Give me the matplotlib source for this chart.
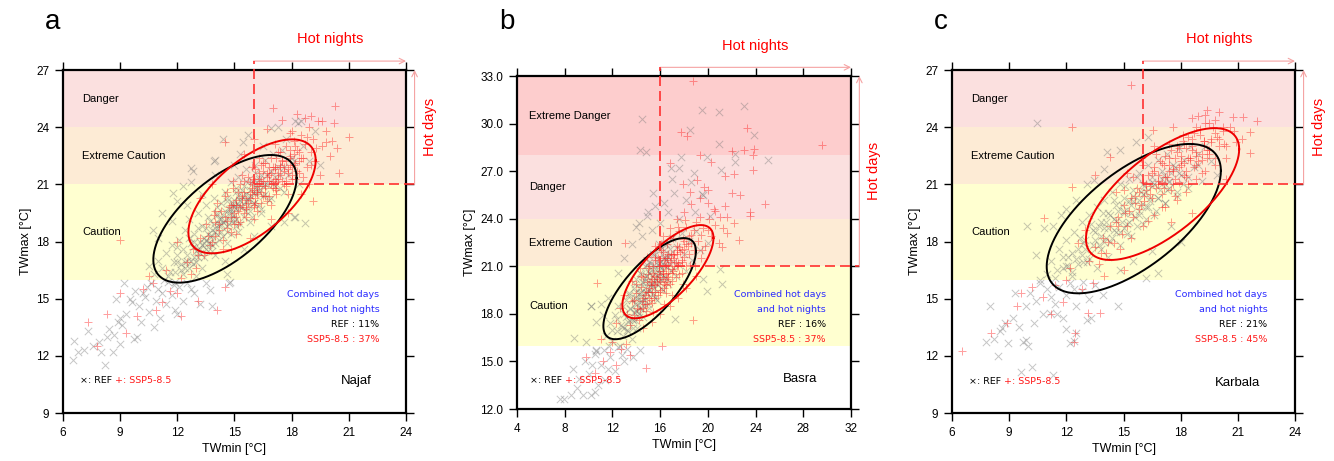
import numpy as np
import matplotlib.pyplot as plt

plt.rcParams['font.family'] = ['Liberation Sans', 'DejaVu Sans']

# ---- data: (TWmin, TWmax) pairs ----
najaf_ref = [
    (6.5,11.8),(6.6,12.8),(6.8,12.2),(7.1,12.3),(7.3,13.3),(7.6,12.5),(7.9,12.7),(8.0,12.2),(8.2,11.5),(8.3,13.0),
    (8.4,13.4),(8.6,12.2),(8.7,13.1),(8.9,13.8),(9.0,14.0),(9.1,13.6),(9.0,12.6),(9.3,14.2),(9.5,15.0),(9.6,14.8),
    (9.7,12.9),(9.9,13.0),(10.0,14.6),(10.2,15.3),(10.3,15.1),(10.5,14.3),(10.6,15.8),(10.8,13.5),(10.9,14.9),(11.0,15.5),
    (11.2,15.3),(11.4,14.7),(11.5,15.9),(11.7,15.2),(11.9,14.4),(12.1,15.6),(12.3,14.9),(12.5,15.8),(12.9,15.3),(13.2,14.7),
    (13.5,15.8),(13.8,14.6),(9.2,15.8),(8.8,15.0),(10.1,13.8),(11.1,14.0),(12.0,14.2),(14.7,15.8),(10.4,15.6),(9.8,15.4),
    (11.8,15.7),(12.7,15.5),(14.75,15.9),(13.7,15.46),(14.6,16.3),
    (10.8,16.3),(11.0,17.0),(11.2,16.6),(11.4,17.4),(11.5,16.2),(11.7,17.8),(11.8,16.9),(12.0,17.3),(12.1,18.1),(12.2,16.5),
    (12.3,17.6),(12.4,18.6),(12.5,17.0),(12.6,19.2),(12.7,17.9),(12.8,16.8),(12.9,18.4),(13.0,17.5),(13.1,19.5),(13.2,18.0),
    (13.3,18.8),(13.4,17.2),(13.5,19.9),(13.6,18.4),(13.7,19.1),(13.8,17.8),(13.9,20.3),(14.0,18.7),(14.1,19.4),(14.2,18.1),
    (14.3,20.0),(14.4,19.0),(14.5,20.6),(14.6,18.5),(14.7,19.7),(14.8,21.1),(14.9,19.2),(15.0,20.2),(15.1,18.8),(15.2,21.4),
    (15.3,19.8),(15.4,20.7),(15.5,19.3),(15.6,21.8),(15.7,20.3),(15.8,19.6),(15.9,21.2),(16.0,20.0),(16.1,22.0),(16.2,20.8),
    (16.3,19.9),(16.4,21.5),(16.5,20.4),(16.6,22.3),(16.7,21.0),(16.8,20.2),(16.9,21.7),(17.0,22.6),(17.1,20.9),(17.3,21.9),
    (17.5,22.8),(17.6,20.6),(17.8,21.5),(18.0,22.4),(18.2,19.3),(18.4,21.0),(18.6,23.0),(18.9,22.2),(19.2,23.8),(18.2,24.3),
    (12.3,20.9),(12.8,21.7),(11.7,19.1),(12.0,20.1),(13.9,22.2),(14.4,23.4),(15.3,22.6),(17.3,24.0),(19.5,22.0),(17.6,19.0),
    (16.9,18.8),(13.0,16.2),(15.5,17.6),(14.5,17.0),(16.0,18.3),(11.0,18.2),(10.5,16.7),(14.0,21.5),(13.3,20.5),(12.5,19.9),
    (15.0,22.0),(16.5,23.0),(17.7,23.4),(12.74,21.84),(12.74,21.1),(11.78,20.53),(10.73,18.6),(11.22,19.5),(13.97,22.28),
    (15.46,23.24),(15.72,23.6),(16.94,23.94),(18.35,24.24),(18.5,24.3),(18.1,19.3),(18.7,18.96),
    (11.3,16.0),(11.9,16.4),(12.4,16.9),(12.9,17.2),(13.3,17.8),(13.8,18.3),(14.2,18.8),(14.7,19.2),(15.1,19.7),(15.6,20.1),
    (16.1,20.5),(16.6,21.0),(17.1,21.4),(17.6,21.9),(18.1,22.2),(12.0,17.7),(12.6,18.2),(13.1,18.7),(13.6,19.3),(14.1,19.8),
    (14.6,20.3),(15.1,20.8),(15.6,21.2),(16.1,21.6),(14.8,18.4),(15.3,18.9),(15.9,19.3),(16.4,19.7),(16.9,20.3),(17.4,20.8),
    (15.0,19.0),(14.4,18.3),(13.5,17.6),(15.7,19.9),(16.3,20.6),
    (12.2,16.8),(12.5,17.3),(12.8,17.7),(13.0,16.9),(13.2,17.6),(13.4,18.2),(13.6,17.5),(13.8,18.6),(14.0,17.9),(14.2,19.2),
    (14.3,18.5),(14.5,19.6),(14.7,18.9),(14.9,20.0),(15.0,19.4),(15.2,20.4),(15.4,19.8),(15.5,20.9),(15.7,20.2),(15.9,21.0),
    (16.1,20.6),(16.3,21.3),(16.5,20.9),(16.7,21.5),(12.6,16.6),(13.1,17.2),(13.7,17.9),(14.3,18.9),(14.8,19.7),(15.3,20.1),
    (15.8,20.7),(16.2,21.1),(11.6,16.4),(12.0,16.9),(12.9,18.0),(13.5,18.7),(14.1,19.5),(14.6,20.1),(15.1,20.6),(16.6,20.5),
    (17.0,21.0),(17.4,21.5),(11.9,15.9),(12.3,16.3),(13.3,16.6),(14.0,17.3),(14.6,17.9),(15.2,18.5),(15.8,19.0),(16.4,19.5),
    (13.4,17.9),(13.7,18.3),(14.0,18.5),(14.2,18.9),(14.5,19.1),(14.8,19.5),(15.0,19.8),(15.3,20.2),(15.6,20.5),(13.9,18.9),
    (14.4,19.4),(14.9,19.9),(15.4,20.4),(13.2,17.4),(13.6,17.9),(14.1,18.4),(14.6,18.8),(15.1,19.2),(15.6,19.6),(16.0,20.0),
    (12.7,17.0),(13.1,17.6),(13.5,18.1),(14.3,19.2),(14.7,19.5),(15.2,19.9),(15.8,20.4),(16.2,20.9),(12.4,16.6),(13.8,17.5),
]
najaf_ssp = [
    (7.3,13.8),(7.8,12.5),(8.3,14.2),(9.0,18.1),(9.3,13.2),(9.0,15.3),(9.9,14.1),(10.2,15.5),(10.7,15.8),(10.9,14.4),
    (11.2,14.8),(11.6,15.4),(12.0,15.3),(12.2,14.1),(13.1,14.9),(14.1,14.4),(14.5,15.6),(10.5,16.2),(11.4,16.5),(12.2,16.1),
    (12.5,16.9),(12.8,17.6),(13.0,16.6),(13.2,18.2),(13.4,17.3),(13.5,18.9),(13.7,17.8),(13.9,19.4),(14.0,18.3),(14.1,20.0),
    (14.2,18.9),(14.3,19.6),(14.4,17.6),(14.5,20.4),(14.6,19.1),(14.7,19.8),(14.8,18.5),(14.9,20.8),(15.0,19.5),(15.1,20.2),
    (15.2,18.9),(15.3,21.0),(15.4,19.9),(15.5,20.6),(15.6,19.3),(15.7,21.4),(15.8,20.3),(15.9,21.0),(16.0,19.8),(16.1,21.8),
    (16.2,20.6),(16.3,21.3),(16.4,20.0),(16.5,22.1),(16.6,20.9),(16.7,21.6),(16.8,20.4),(16.9,22.4),(17.0,21.2),(17.1,21.9),
    (17.2,20.7),(17.3,22.7),(17.4,21.5),(17.5,22.2),(17.6,21.0),(17.7,23.0),(17.8,21.8),(17.9,22.5),(18.0,21.3),(18.1,23.3),
    (18.2,22.1),(18.3,22.8),(18.4,21.6),(18.5,23.6),(18.6,22.4),(18.7,23.1),(18.8,21.9),(18.9,24.0),(19.0,22.7),(19.1,23.4),
    (19.2,22.2),(19.4,24.3),(19.6,23.0),(19.8,23.8),(20.0,22.5),(20.2,24.2),(20.4,22.9),(17.0,25.0),(17.5,24.4),(18.3,24.7),
    (18.7,24.5),(20.3,25.1),(21.0,23.5),(20.5,21.6),(19.1,20.1),(14.5,23.2),(15.5,22.6),(16.0,23.4),(16.7,23.9),(13.2,20.3),
    (13.8,21.0),(12.0,18.0),(17.8,19.5),(18.5,20.5),(16.9,19.2),(15.8,18.2),
    (14.6,18.7),(15.1,19.3),(15.6,19.8),(16.1,20.3),(16.6,20.8),(17.1,21.3),(17.6,21.7),(18.1,22.0),(15.4,20.3),(15.9,20.8),
    (16.4,21.2),(16.9,21.6),(17.4,22.0),(17.9,22.4),(18.4,22.7),(16.2,19.6),(16.7,20.1),(17.2,20.5),(17.7,20.9),(18.2,21.3),
    (14.9,19.9),(15.4,21.5),(16.3,22.4),(17.1,23.1),(18.0,23.8),(19.0,24.6),(19.6,24.3),(20.1,23.3),(19.5,21.5),(18.9,21.0),
    (13.6,18.3),(14.0,19.0),(13.1,17.3),(12.7,16.3),(14.8,17.6),
    (14.2,18.6),(14.5,19.3),(14.8,19.9),(15.0,18.9),(15.2,19.6),(15.4,20.4),(15.6,19.7),(15.8,20.6),(16.0,21.3),(16.1,20.0),
    (16.3,20.9),(16.5,21.7),(16.6,20.4),(16.8,21.2),(17.0,21.9),(17.1,20.8),(17.3,21.6),(17.5,22.3),(17.7,21.2),(17.9,22.0),
    (18.1,22.6),(18.3,21.7),(15.3,19.0),(15.7,20.0),(16.2,20.5),(16.7,21.4),(17.2,21.1),(17.6,21.9),(18.0,21.5),(18.5,22.4),
    (14.0,19.6),(14.6,20.6),(15.5,21.2),(16.4,22.0),(17.4,22.7),(18.2,23.0),(13.8,18.0),(14.4,18.1),(15.1,18.4),(16.0,19.2),
    (16.9,19.9),(17.8,20.5),(18.6,21.4),(19.0,22.0),(19.3,22.9),(18.8,23.5),(19.8,23.2),(17.9,23.7),(15.9,21.9),(14.9,21.2),
    (15.3,19.8),(15.6,20.2),(15.9,20.5),(16.2,20.9),(16.5,21.2),(16.8,21.5),(17.1,21.8),(17.4,21.9),(17.7,22.2),(16.0,20.7),
    (16.4,20.6),(16.9,21.0),(17.3,21.3),(17.8,21.6),(15.8,21.1),(16.3,21.6),(16.8,21.9),(17.2,22.4),(15.1,19.9),(15.5,19.5),
    (16.0,19.9),(16.5,20.4),(17.0,20.8),(17.5,21.2),(18.0,21.9),(14.8,19.3),(15.2,20.6),(16.6,22.1),(17.9,22.8),(18.4,22.2),
]
basra_ref = [
    (7.6,12.6),(7.9,12.6),(8.5,12.9),(9.0,13.3),(9.5,12.9),(10.2,12.9),(10.5,13.1),(8.7,14.5),(9.7,15.0),(10.0,14.2),
    (10.5,15.5),(11.0,14.8),(11.3,15.7),(11.8,15.3),(12.2,14.4),(12.5,15.9),(13.0,15.0),(13.7,15.3),(14.3,15.7),(11.4,13.8),
    (10.8,13.5),(9.2,13.9),(10.3,14.8),(11.6,14.5),(12.8,15.4),(8.75,16.5),(10.6,15.7),(9.8,16.2),
    (11.5,16.6),(11.8,17.4),(12.0,16.3),(12.2,17.9),(12.4,16.9),(12.5,18.5),(12.7,17.3),(12.9,16.6),(13.0,18.0),(13.1,18.9),
    (13.3,17.5),(13.4,19.3),(13.5,18.3),(13.7,17.1),(13.8,19.6),(13.9,18.6),(14.0,20.2),(14.1,19.0),(14.2,17.8),(14.3,20.6),
    (14.4,19.4),(14.5,18.3),(14.6,20.0),(14.7,21.0),(14.8,19.0),(14.9,20.4),(15.0,18.6),(15.1,21.3),(15.2,19.7),(15.3,20.8),
    (15.4,19.2),(15.5,21.7),(15.6,20.2),(15.7,18.9),(15.8,21.1),(15.9,20.0),(16.0,22.0),(16.1,20.6),(16.2,19.5),(16.3,21.5),
    (16.4,20.3),(16.5,22.4),(16.6,21.0),(16.7,19.9),(16.8,21.8),(16.9,20.7),(17.0,22.8),(17.1,21.3),(17.3,20.4),(17.4,22.2),
    (17.6,21.1),(17.8,23.1),(18.0,21.8),(18.2,20.7),(18.4,22.6),(18.7,21.4),(19.0,23.2),(19.3,22.0),(19.6,20.2),(20.0,22.5),
    (13.6,22.4),(14.0,23.5),(14.5,22.9),(14.9,24.2),(15.3,23.3),(15.6,24.8),(16.0,23.7),(16.3,25.0),(16.7,24.4),(17.2,25.6),
    (17.6,24.0),(18.2,25.2),(18.9,24.4),(19.6,25.5),(20.2,24.2),(13.0,21.5),(12.5,20.6),(11.6,19.0),(11.0,18.6),(10.2,18.5),
    (10.6,17.5),(11.2,17.9),(14.2,23.7),(15.0,24.4),
    (14.47,30.27),(14.28,28.36),(14.81,28.2),(19.5,30.88),(20.96,30.71),(23.05,31.09),(23.86,29.27),(20.93,28.74),(18.5,29.62),
    (22.27,28.05),(25.0,27.7),(17.74,27.9),(19.9,27.9),(21.12,27.1),(16.93,27.17),(17.57,27.17),(18.58,26.33),(15.37,25.64),
    (16.96,26.48),(19.53,25.55),(20.98,20.81),(19.95,19.47),(21.18,19.87),(17.27,17.66),(10.23,18.5),(10.62,15.67),(22.3,27.6),
    (18.8,26.9),
    (13.2,17.0),(13.6,17.7),(14.0,18.2),(14.4,18.8),(14.8,19.4),(15.2,19.9),(15.6,20.5),(16.0,21.0),(16.4,21.6),(16.8,22.1),
    (13.9,17.6),(14.3,18.4),(14.7,18.9),(15.1,19.5),(15.5,20.0),(15.9,20.6),(16.3,21.1),(16.7,21.6),
    (12.8,17.2),(13.1,17.8),(13.3,16.9),(13.5,18.4),(13.7,17.6),(13.9,19.0),(14.1,18.2),(14.3,19.6),(14.5,18.8),(14.7,20.1),
    (14.9,19.3),(15.1,20.6),(15.3,19.9),(15.5,21.1),(15.7,20.4),(15.9,21.5),(16.1,20.9),(16.3,22.0),(16.5,21.4),(16.7,22.5),
    (12.4,17.7),(12.9,18.5),(13.4,19.2),(13.9,19.9),(14.4,20.5),(14.9,21.1),(15.4,21.8),(15.9,22.4),(13.6,16.4),(14.1,17.1),
    (14.6,17.8),(15.1,18.4),(15.6,19.0),(16.1,19.6),(16.6,20.2),(17.1,20.9),(12.0,17.0),(11.7,16.0),(12.6,16.0),(13.2,15.8),
    (13.8,18.1),(14.1,18.6),(14.4,19.1),(14.7,19.6),(15.0,20.0),(15.3,20.4),(15.6,20.8),(15.9,21.2),(14.0,19.4),(14.5,20.0),
    (15.0,20.7),(15.4,19.3),(15.8,19.8),(16.2,20.3),(14.2,18.0),(14.6,18.5),(13.6,18.9),(14.8,20.4),(15.2,21.2),(16.0,20.2),
    (13.4,17.6),(13.0,17.1),(16.4,21.0),(15.5,19.6),(14.3,19.3),
]
basra_ssp = [
    (10.5,14.3),(11.2,15.0),(11.8,15.6),(12.3,14.8),(12.0,16.2),(12.7,15.8),(13.5,15.4),(14.84,14.6),(16.15,15.95),(9.8,15.3),
    (11.0,16.4),(13.1,16.1),
    (13.2,18.0),(13.5,17.3),(13.6,18.8),(13.8,17.9),(14.0,19.3),(14.1,18.4),(14.2,17.6),(14.4,19.7),(14.5,18.8),(14.6,20.3),
    (14.7,19.2),(14.8,18.2),(14.9,20.0),(15.0,19.4),(15.1,21.0),(15.2,19.8),(15.3,18.7),(15.4,20.6),(15.5,19.9),(15.6,21.4),
    (15.7,20.3),(15.8,19.2),(15.9,21.0),(16.0,20.1),(16.1,22.0),(16.2,20.7),(16.3,19.6),(16.4,21.5),(16.5,20.5),(16.6,22.4),
    (16.7,21.1),(16.8,19.9),(16.9,21.8),(17.0,20.8),(17.1,22.8),(17.2,21.5),(17.3,20.3),(17.4,22.3),(17.5,21.2),(17.6,23.2),
    (17.7,21.9),(17.8,20.6),(17.9,22.7),(18.0,21.6),(18.2,23.5),(18.3,22.3),(18.5,21.1),(18.6,23.0),(18.8,22.0),(19.0,23.8),
    (19.2,22.6),(19.4,21.5),(19.6,23.4),(19.8,22.3),(20.1,24.0),(20.3,22.9),(20.6,23.6),(20.9,22.5),(21.3,23.4),(21.6,24.1),
    (18.0,24.4),(18.6,24.9),(19.3,25.3),(20.0,25.0),(20.6,24.5),(21.4,24.8),(17.4,24.0),(16.8,23.4),(16.2,22.9),(15.6,22.3),
    (14.9,21.6),(14.3,20.9),(13.6,20.1),(13.0,19.2),(12.6,18.4),(12.3,17.4),(19.0,20.4),(18.2,19.6),(17.5,19.0),(16.8,18.5),
    (16.0,18.0),(15.3,17.5),(14.6,17.1),
    (18.75,32.69),(17.74,29.45),(18.25,29.2),(23.3,29.7),(29.53,28.68),(22.0,28.3),(23.05,28.36),(23.9,28.4),(23.8,28.0),
    (23.8,27.1),(19.36,28.0),(20.26,27.6),(21.4,26.7),(22.2,26.8),(16.8,27.5),(19.08,26.43),(20.0,25.8),(22.05,25.6),
    (22.7,25.5),(24.8,24.9),(23.55,24.4),(23.55,24.2),(20.5,24.6),(21.04,24.1),(22.2,23.7),(21.6,23.1),(22.65,22.66),
    (21.2,22.2),(18.72,17.6),(13.08,22.45),(10.7,19.93),(19.7,26.0),(18.5,25.7),(17.9,26.2),
    (15.0,20.5),(15.4,21.0),(15.8,21.5),(16.2,21.9),(16.6,20.2),(17.0,20.6),(17.4,21.0),(17.8,21.4),(16.0,19.5),(16.4,20.0),
    (15.2,18.9),(15.6,19.4),(17.2,21.8),(17.6,22.2),(18.0,22.6),(18.4,22.9),(18.8,23.3),(19.3,24.1),(16.5,19.3),(14.7,18.6),
    (14.3,18.3),(14.6,19.0),(14.9,18.6),(15.1,19.6),(15.3,20.2),(15.5,19.0),(15.7,20.0),(15.9,20.7),(16.0,19.4),(16.2,20.3),
    (16.4,21.0),(16.5,19.8),(16.7,20.6),(16.9,21.4),(17.0,20.1),(17.2,21.0),(17.4,21.8),(17.6,20.5),(17.8,21.3),(18.0,22.1),
    (18.2,21.0),(18.4,21.8),(18.6,22.5),(15.0,20.9),(15.6,21.6),(16.1,22.4),(16.8,22.9),(17.5,23.5),(14.0,19.9),(13.8,18.9),
    (14.4,20.4),(16.3,18.6),(17.0,19.2),(17.9,19.9),(18.9,21.0),(19.5,22.0),(20.0,23.3),(19.4,23.0),(18.1,23.9),(15.4,18.1),
    (15.3,19.4),(15.6,19.8),(15.9,20.2),(16.2,20.6),(16.5,21.0),(16.8,21.3),(17.1,21.7),(17.4,22.0),(15.5,20.4),(15.9,21.0),
    (16.3,21.4),(16.7,21.8),(16.3,19.9),(16.7,20.3),(17.1,20.7),(17.5,21.0),(15.1,19.0),(14.8,19.4),(15.2,20.1),(16.0,20.5),
    (16.6,21.5),(17.3,21.3),(17.8,22.0),(18.2,22.4),(14.6,18.4),
]
karbala_ref = [
    (7.98,14.64),(7.8,12.75),(8.42,11.97),(9.64,11.13),(10.22,11.44),(11.3,11.0),(8.6,13.45),(8.94,12.66),(9.9,12.84),
    (11.13,14.24),(12.18,12.66),(12.53,13.19),(13.06,13.89),(14.72,14.59),
    (8.5,13.3),(8.8,13.7),(9.2,14.0),(9.5,13.5),(9.9,14.6),(10.1,15.3),(10.4,14.9),(10.6,15.8),(10.8,14.2),(11.0,15.5),
    (11.2,15.1),(11.4,14.7),(11.6,15.6),(11.8,14.0),(12.0,15.2),(12.2,15.8),(12.5,14.6),(12.8,15.4),(13.2,15.0),(13.5,15.7),
    (13.9,15.2),(9.7,12.7),(10.0,12.5),(10.3,13.7),(9.3,15.3),(8.2,12.9),(12.0,13.4),(11.5,14.2),(12.4,12.8),(13.3,14.0),
    (11.0,16.3),(11.2,17.0),(11.4,16.1),(11.6,17.6),(11.8,16.6),(12.0,18.1),(12.1,17.2),(12.3,16.4),(12.4,18.5),(12.6,17.6),
    (12.8,19.0),(12.9,16.9),(13.0,18.1),(13.2,19.4),(13.3,17.4),(13.4,18.6),(13.6,19.8),(13.7,17.8),(13.8,19.0),(14.0,20.2),
    (14.1,18.2),(14.2,19.5),(14.4,20.6),(14.5,18.6),(14.6,19.9),(14.8,21.0),(14.9,19.0),(15.0,20.3),(15.2,18.4),(15.3,21.3),
    (15.4,19.5),(15.5,20.7),(15.7,18.8),(15.8,21.6),(15.9,19.9),(16.0,21.0),(16.2,19.2),(16.3,22.0),(16.4,20.3),(16.5,21.4),
    (16.7,19.6),(16.8,22.3),(16.9,20.7),(17.0,21.7),(17.2,20.0),(17.3,22.6),(17.4,21.1),(17.6,22.0),(17.8,20.4),(17.9,22.9),
    (18.0,21.5),(18.2,22.3),(18.4,20.8),(18.5,23.0),(18.7,21.9),(18.9,22.6),(19.1,21.2),(19.3,23.0),(19.6,22.2),(19.9,21.5),
    (16.82,16.34),(16.2,16.07),(17.5,18.8),(18.0,18.0),(16.5,17.5),(15.5,17.0),(14.8,16.5),(10.48,24.24),(13.46,21.23),
    (14.14,22.72),(14.8,22.8),(15.68,23.24),(16.3,23.5),(9.96,18.82),(10.83,18.73),(10.43,17.3),(12.5,20.2),(11.7,19.4),
    (13.1,21.0),(14.0,21.8),(12.0,19.7),(10.6,16.0),(11.3,18.8),
    (13.5,18.1),(14.0,18.7),(14.5,19.2),(15.0,19.6),(15.5,20.1),(16.0,20.5),(16.5,20.9),(17.0,21.3),(17.5,21.6),(14.3,18.0),
    (14.8,18.5),(15.3,19.0),(15.8,19.4),(16.3,19.8),(16.8,20.3),(17.3,20.7),(13.0,17.6),(12.5,17.1),(12.1,16.7),(18.1,21.0),
    (12.0,16.7),(12.3,17.4),(12.6,16.8),(12.9,17.9),(13.2,17.1),(13.5,18.5),(13.8,17.6),(14.1,19.0),(14.4,18.2),(14.7,19.6),
    (15.0,18.7),(15.3,20.1),(15.6,19.3),(15.9,20.6),(16.2,19.8),(16.5,21.1),(16.8,20.3),(17.1,21.5),(17.4,20.8),(17.7,21.9),
    (11.5,16.5),(11.8,17.2),(12.7,18.2),(13.3,18.9),(13.9,19.5),(14.5,20.2),(15.1,20.9),(15.7,21.4),(13.6,16.6),(14.2,17.2),
    (14.8,17.8),(15.4,18.3),(16.0,18.9),(16.6,19.4),(17.2,20.0),(17.8,20.6),(18.4,21.4),(18.9,22.0),(12.9,15.9),(12.4,15.5),
    (13.4,17.8),(13.8,18.3),(14.2,18.7),(14.6,19.1),(15.0,19.5),(15.4,19.9),(15.8,20.2),(16.2,20.6),(16.6,21.0),(17.0,21.0),
    (13.7,18.8),(14.3,19.4),(14.9,19.9),(15.5,20.4),(16.1,20.9),(14.0,18.0),(14.6,18.5),(15.2,18.9),(15.8,19.6),(16.4,20.1),
    (12.8,17.3),(13.1,16.9),(12.3,16.2),(17.4,21.2),(17.9,21.6),
]
karbala_ssp = [
    (15.4,26.2),(12.3,24.03),(12.3,20.88),(6.54,12.27),(8.07,13.22),(8.9,13.71),(10.83,19.22),(12.45,13.19),(12.4,12.75),
    (13.76,14.27),(13.15,14.27),(9.64,15.29),(9.43,14.62),(11.83,14.85),(21.99,24.34),(21.64,23.73),(21.64,22.66),
    (18.57,24.46),(19.27,24.64),(20.76,24.55),(21.29,24.55),(17.6,24.0),(16.56,23.85),(14.28,22.45),(13.5,21.5),
    (10.2,15.6),(10.8,15.1),(11.4,15.7),(12.0,16.0),(12.8,15.5),(11.2,14.2),(13.4,15.8),
    (13.2,17.0),(13.5,17.7),(13.7,16.8),(13.9,18.2),(14.1,17.4),(14.3,18.8),(14.5,17.9),(14.7,19.3),(14.9,18.4),(15.0,19.9),
    (15.2,18.8),(15.4,20.3),(15.5,19.3),(15.7,20.8),(15.8,19.7),(16.0,21.1),(16.1,20.1),(16.3,21.5),(16.4,20.5),(16.6,21.9),
    (16.7,20.8),(16.9,22.2),(17.0,21.1),(17.2,22.5),(17.3,21.4),(17.5,22.8),(17.6,21.7),(17.8,23.0),(17.9,21.9),(18.1,23.3),
    (18.2,22.1),(18.4,23.5),(18.5,22.3),(18.7,23.7),(18.8,22.5),(19.0,23.9),(19.1,22.6),(19.3,24.2),(19.4,22.8),(19.6,23.4),
    (19.8,24.4),(20.0,23.0),(20.2,23.8),(20.4,22.4),(20.6,24.0),(20.9,23.2),(18.3,20.6),(18.8,21.3),(19.3,21.7),(17.8,20.2),
    (17.2,19.8),(16.6,19.4),(16.0,18.8),(15.4,18.2),(14.8,17.6),(19.8,22.0),(20.4,21.3),(20.0,24.8),(19.4,24.9),(18.9,24.6),
    (14.6,20.6),(15.2,21.6),(15.9,22.4),(16.6,23.0),(12.6,17.9),(12.2,16.6),(13.0,18.6),(15.0,16.5),(14.0,16.2),(17.5,19.0),
    (18.6,19.5),
    (16.2,20.7),(16.8,21.2),(17.4,21.7),(18.0,22.2),(18.6,22.8),(19.2,23.3),(16.5,21.6),(17.1,22.0),(17.7,22.4),(18.3,22.9),
    (17.0,20.5),(17.6,21.0),(18.2,21.5),(18.8,22.0),(19.4,22.4),(15.6,20.0),(15.1,19.5),(14.6,19.0),(19.9,23.5),(20.3,23.1),
    (15.3,19.6),(15.6,20.4),(15.9,19.9),(16.2,21.0),(16.5,20.3),(16.8,21.5),(17.1,20.8),(17.4,22.0),(17.7,21.3),(18.0,22.5),
    (18.3,21.7),(18.6,23.0),(18.9,22.2),(19.2,23.3),(19.5,22.6),(19.8,23.7),(16.0,22.0),(16.7,22.6),(17.4,23.1),(18.1,23.6),
    (18.8,24.0),(19.5,24.2),(17.0,19.8),(17.7,20.4),(18.4,21.0),(19.1,21.6),(19.8,22.4),(20.4,23.0),(14.7,18.8),(14.2,18.0),
    (13.8,17.4),(15.0,20.7),(15.5,21.4),(17.9,22.9),(18.5,22.4),(19.0,23.6),(20.2,24.0),(20.8,23.8),(21.2,23.4),(16.3,19.1),
    (16.4,20.9),(16.8,21.0),(17.2,21.4),(17.6,21.8),(18.0,22.0),(18.4,22.4),(18.8,22.7),(19.2,23.0),(19.6,23.2),(16.6,21.7),
    (17.0,22.1),(17.4,22.4),(17.8,22.7),(18.2,23.1),(18.6,23.4),(17.5,20.7),(17.9,21.1),(18.3,21.4),(18.7,21.9),(19.1,22.3),
    (19.5,22.8),(16.1,20.4),(15.8,20.6),(20.0,23.4),(19.7,24.0),
]

# ellipses: centre x, centre y, half-width x, half-height y, correlation
najaf_ell_ref = (14.5, 19.19, 3.76, 3.35, 0.64)
najaf_ell_ssp = (15.92, 20.37, 3.34, 2.99, 0.63)
basra_ell_ref = (15.12, 19.59, 3.88, 3.19, 0.74)
basra_ell_ssp = (16.65, 20.66, 3.82, 2.94, 0.72)
karbala_ell_ref = (15.54, 19.2, 4.57, 3.92, 0.64)
karbala_ell_ssp = (17.05, 20.49, 4.02, 3.46, 0.68)

pct_ref = ['11%', '16%', '21%']
pct_ssp = ['37%', '37%', '45%']
cities = ['Najaf', 'Basra', 'Karbala']
letters = ['a', 'b', 'c']

bands_iq = [(16, 21, '#ffffd0', 'Caution'), (21, 24, '#fdebd5', 'Extreme Caution'),
            (24, 27, '#fbe0df', 'Danger')]
bands_basra = [(16, 21, '#ffffd0', 'Caution'), (21, 24, '#fdebd5', 'Extreme Caution'),
               (24, 28, '#fbe0df', 'Danger'), (28, 33, '#fdcdcd', 'Extreme Danger')]

fig = plt.figure(figsize=(13.34, 4.61), dpi=100)
W, H = 1334, 461
boxes = [(63, 70, 343, 343), (517, 76, 334, 333), (952, 70, 343, 343)]


def ellipse(p):
    cx, cy, wx, wy, r = p
    t = np.linspace(0, 2 * np.pi, 300)
    return cx + wx * np.cos(t), cy + wy * (r * np.cos(t) + np.sqrt(1 - r * r) * np.sin(t))


panels = [
    dict(ref=najaf_ref, ssp=najaf_ssp, eref=najaf_ell_ref, essp=najaf_ell_ssp,
         xlim=(6, 24), ylim=(9, 27), xt=np.arange(6, 25, 3), yt=np.arange(9, 28, 3), yfmt='%d',
         bands=bands_iq, bx=7.0, txt=(22.6, [15.2, 14.42, 13.67, 12.88]), leg=(6.87, 10.7), city=(22.2, 10.7)),
    dict(ref=basra_ref, ssp=basra_ssp, eref=basra_ell_ref, essp=basra_ell_ssp,
         xlim=(4, 32), ylim=(12, 33), xt=np.arange(4, 33, 4), yt=np.arange(12, 34, 3), yfmt='%.1f',
         bands=bands_basra, bx=5.0, txt=(29.9, [19.2, 18.25, 17.35, 16.4]), leg=(5.12, 13.8), city=(29.2, 13.9)),
    dict(ref=karbala_ref, ssp=karbala_ssp, eref=karbala_ell_ref, essp=karbala_ell_ssp,
         xlim=(6, 24), ylim=(9, 27), xt=np.arange(6, 25, 3), yt=np.arange(9, 28, 3), yfmt='%d',
         bands=bands_iq, bx=7.0, txt=(22.55, [15.2, 14.42, 13.67, 12.88]), leg=(6.88, 10.65), city=(22.16, 10.6)),
]

pink = '#f5a3a3'
for i, p in enumerate(panels):
    l, t, w, h = boxes[i]
    ax = fig.add_axes([l / W, 1 - (t + h) / H, w / W, h / H])
    x0, x1 = p['xlim']
    y0, y1 = p['ylim']
    for lo, hi, col, name in p['bands']:
        ax.axhspan(lo, hi, color=col, lw=0, zorder=0)
        ax.text(p['bx'], (lo + hi) / 2, name, fontsize=8, va='center', ha='left', zorder=1)

    ref = np.array(p['ref'])
    ssp = np.array(p['ssp'])
    ax.scatter(ref[:, 0], ref[:, 1], marker='x', s=28, c='#777777', alpha=0.42, linewidths=0.7, zorder=2)
    ax.scatter(ssp[:, 0], ssp[:, 1], marker='+', s=36, c='#ff1a1a', alpha=0.42, linewidths=0.7, zorder=3)

    ex, ey = ellipse(p['eref'])
    ax.plot(ex, ey, color='black', lw=1.4, zorder=4)
    ex, ey = ellipse(p['essp'])
    ax.plot(ex, ey, color='#ee0000', lw=1.4, zorder=4)

    ax.set_xlim(x0, x1)
    ax.set_ylim(y0, y1)
    ax.set_xticks(p['xt'])
    ax.set_yticks(p['yt'])
    ax.set_yticklabels([p['yfmt'] % v for v in p['yt']])
    ax.tick_params(direction='out', length=6, width=1, labelsize=8.5, pad=4,
                   top=True, right=True)
    for s in ax.spines.values():
        s.set_linewidth(1.6)
    ax.set_xlabel('TWmin [°C]', fontsize=9, labelpad=3)
    ax.set_ylabel('TWmax [°C]', fontsize=9, labelpad=3)

    # hot nights / hot days guides
    xr, yr = x1 - x0, y1 - y0
    dash = dict(color='#ff3030', lw=1.2, dashes=(6, 3), clip_on=False, zorder=5)
    ax.plot([16, 16], [21, y1 + 0.026 * yr], **dash)
    ax.plot([16, x1 + 0.025 * xr], [21, 21], **dash)
    ax.annotate('', xy=(x1, 1.026), xytext=(16, 1.026), xycoords=('data', 'axes fraction'),
                arrowprops=dict(arrowstyle='->', color=pink, lw=0.8, shrinkA=0, shrinkB=0))
    ax.annotate('', xy=(1.025, y1), xytext=(1.025, 21), xycoords=('axes fraction', 'data'),
                arrowprops=dict(arrowstyle='->', color=pink, lw=0.8, shrinkA=0, shrinkB=0))
    ax.text((16 + x1) / 2, 1.09, 'Hot nights', color='#ff0000', fontsize=10.5, ha='center', va='center',
            transform=ax.get_xaxis_transform())
    ax.text(1.07, (21 + y1) / 2, 'Hot days', color='#ff0000', fontsize=10.5, ha='center', va='center',
            rotation=90, transform=ax.get_yaxis_transform())

    tx, tys = p['txt']
    small = dict(fontsize=6.8, ha='right', va='center', family='DejaVu Sans', zorder=6)
    ax.text(tx, tys[0], 'Combined hot days', color='#2b2bff', **small)
    ax.text(tx, tys[1], 'and hot nights', color='#2b2bff', **small)
    ax.text(tx, tys[2], 'REF : ' + pct_ref[i], color='black', **small)
    ax.text(tx, tys[3], 'SSP5-8.5 : ' + pct_ssp[i], color='#ff1a1a', **small)

    t1 = ax.text(p['leg'][0], p['leg'][1], '×: REF ', fontsize=6.8, family='DejaVu Sans', va='center')
    ax.annotate('+: SSP5-8.5', xy=(1, 0.5), xycoords=t1, va='center', ha='left', fontsize=6.8,
                family='DejaVu Sans', color='#ff1a1a')
    ax.text(p['city'][0], p['city'][1], cities[i], fontsize=9.5, ha='right', va='center')

    fig.text((l - 18) / W, 1 - 22 / H, letters[i], fontsize=20, ha='left', va='center')

fig.savefig('out.png', dpi=100)
